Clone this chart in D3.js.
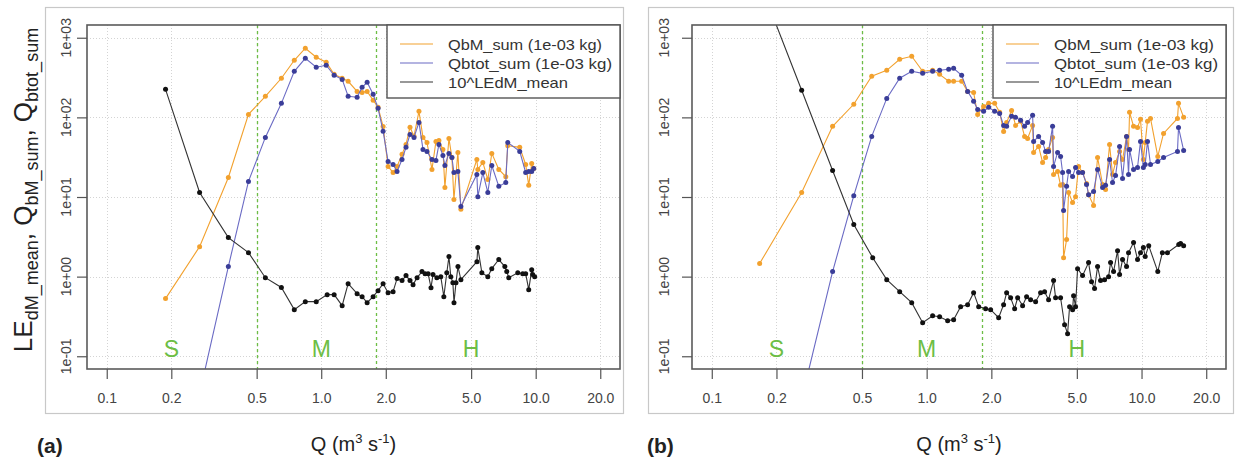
<!DOCTYPE html>
<html>
<head>
<meta charset="utf-8">
<script src="https://cdn.jsdelivr.net/npm/d3@7"></script>
<style>
  body { margin: 0; background: #fff; }
  svg { display: block; font-family: "Liberation Sans", Arial, Helvetica, sans-serif; }
</style>
</head>
<body>
<svg id="chart" width="1236" height="460"></svg>
<script>
// ---- axis ticks and annotations ----
const xTicks = [0.1, 0.2, 0.5, 1.0, 2.0, 5.0, 10.0, 20.0];
const xTickLabels = ["0.1", "0.2", "0.5", "1.0", "2.0", "5.0", "10.0", "20.0"];
const yTicks = [0.1, 1, 10, 100, 1000];
const yTickLabels = ["1e-01", "1e+00", "1e+01", "1e+02", "1e+03"];
const xLim = [0.1, 20];
const yLim = [0.1, 1000];
const regimeBounds = [0.5, 1.8];
const regimeLabels = ["S", "M", "H"];
const regimeLabelQ = [0.2, 1.0, 5.0];

// ---- panel (a): discharge Q (m3/s) and values ----
const qA_LE = [0.188,0.271,0.369,0.458,0.549,0.652,0.749,0.843,0.948,1.066,1.149,1.252,1.335,1.47,1.551,1.637,1.746,1.841,1.943,2.05,2.163,2.257,2.381,2.485,2.594,2.68,2.80,2.95,3.05,3.15,3.25,3.32,3.46,3.61,3.73,3.85,3.94,4.02,4.11,4.16,4.25,4.34,4.48,5.32,5.37,5.61,5.98,6.24,6.73,7.18,7.33,7.49,8.25,8.70,8.98,9.28,9.58,9.68,9.89];
const leA = [225,11.4,3.09,2.0,0.97,0.73,0.385,0.485,0.485,0.594,0.594,0.432,0.816,0.611,0.56,0.471,0.56,0.667,0.816,0.629,0.648,0.944,0.891,1.03,0.891,0.793,0.97,1.156,1.09,1.09,0.727,1.06,0.97,1.0,0.56,1.12,1.785,1.0,0.84,0.471,0.84,1.336,0.917,1.54,2.32,1.12,1.0,1.26,1.64,1.336,1.156,0.97,1.12,1.09,1.09,0.686,1.22,1.06,1.0];
const qA_Qb = [0.188,0.271,0.369,0.458,0.549,0.652,0.749,0.843,0.948,1.055,1.149,1.252,1.335,1.47,1.551,1.637,1.746,1.841,1.943,2.05,2.163,2.257,2.381,2.485,2.594,2.708,2.856,2.982,3.112,3.284,3.427,3.538,3.693,3.773,3.939,4.068,4.156,4.337,4.479,5.316,5.373,5.669,5.981,6.243,6.73,7.253,7.41,8.425,8.98,9.28,9.58,9.79];
const qbmA = [0.53,2.38,17.6,109,184,310,521,738,569,492,347,310,284,212,206,212,164,134,77,24.2,20.3,24.2,34.3,45.7,75,58,119,56,48.5,22.2,49.9,51.4,39.6,13.2,54.4,31.4,9.3,36.3,7.0,29.6,22.2,27.2,16.6,35.3,22.2,18,44,42,25.6,14,26.4,22.8];
const qbtotA = [0.0004,0.034,1.34,15.7,56,150,379,552,426,451,337,300,184,179,239,276,195,130,67,28,25.6,20.9,29.6,42,61,56,86.5,39.6,37.4,29.6,28.8,45.7,33.3,24.9,35.3,31.4,20.3,20.9,7.6,19.2,10.1,20.3,11.4,24.9,13.6,15.2,48.5,37.4,20.3,20.9,20.9,22.8];
const legendA = ["QbM_sum (1e-03 kg)", "Qbtot_sum (1e-03 kg)", "10^LEdM_mean"];

// ---- panel (b) ----
const qB_LE = [0.167,0.262,0.365,0.458,0.561,0.652,0.749,0.852,0.958,1.066,1.149,1.252,1.335,1.439,1.551,1.654,1.746,1.881,1.985,2.163,2.281,2.356,2.459,2.567,2.651,2.796,2.918,3.046,3.214,3.39,3.538,3.693,3.896,3.981,4.2,4.384,4.527,4.625,4.776,4.828,4.932,5.039,5.316,5.669,5.853,6.044,6.243,6.447,6.73,7.024,7.176,7.41,7.735,7.903,8.16,8.517,8.70,9.18,9.58,9.89,10.2,10.4,10.8,11.9,12.5,13.2,14.9,15.2,15.7];
const leB = [4990,219,21.5,4.51,1.73,0.917,0.648,0.471,0.264,0.323,0.314,0.28,0.288,0.42,0.444,0.629,0.42,0.396,0.385,0.305,0.444,0.629,0.544,0.396,0.544,0.432,0.56,0.514,0.485,0.629,0.648,0.514,0.891,0.544,0.544,0.249,0.192,0.42,0.385,0.577,0.42,1.26,1.03,1.5,0.865,0.707,1.336,0.891,0.917,1.0,1.5,1.156,2.12,1.06,1.64,1.336,2.0,2.68,1.64,2.0,2.32,1.785,2.45,1.156,2.0,2.0,2.53,2.6,2.45];
const qB_Qb = [0.167,0.262,0.365,0.458,0.555,0.652,0.749,0.852,0.958,1.066,1.149,1.266,1.335,1.455,1.551,1.654,1.727,1.841,1.943,2.072,2.186,2.281,2.356,2.485,2.594,2.737,2.856,2.95,3.112,3.146,3.318,3.464,3.577,3.693,3.855,3.896,4.068,4.2,4.291,4.337,4.479,4.576,4.776,4.932,5.093,5.316,5.548,5.669,5.981,6.243,6.588,6.802,7.1,7.33,7.57,7.903,8.16,8.517,8.70,8.795,9.18,9.58,9.89,10.2,10.4,10.66,11.01,11.9,12.66,14.7,14.86,15.7];
const qbmB = [1.46,11.4,77.1,146,328,390,537,585,379,390,347,284,284,284,212,206,109,137,150,150,116,66.7,86.5,122,79.3,89.1,57.7,54.4,79.3,36.3,43.2,27.2,31.4,39.6,56,19.2,20.9,14,14.4,1.73,2.92,11.4,8.53,10.1,24.2,20.3,14.8,10.7,7.82,31.4,14.4,12.4,45.7,19.2,27.2,37.4,29.6,57.7,39.6,116,77.1,74.8,94.4,29.6,48.5,89.1,97,32.3,62.9,97,150,100];
const qbtotB = [0.0001,0.029,1.156,10.4,57.7,173,310,379,357,379,390,402,413,337,212,159,126,119,134,119,112,79.3,77.1,103,100,91.7,77.1,86.5,106,49.9,57.7,48.5,37.4,37.4,77.1,24.2,36.3,32.3,20.3,6.76,13.6,20.9,18.1,23.5,20.3,20.3,14.4,10.7,11.7,22.2,13.2,14,29.6,15.2,18.6,43.2,17.1,57.7,19.2,39.6,22.2,23.5,49.9,23.5,25.6,49.9,25.6,28,31.4,37.4,74.8,38.5];
const legendB = ["QbM_sum (1e-03 kg)", "Qbtot_sum (1e-03 kg)", "10^LEdm_mean"];

// ---- styles ----
const colOrange = "#f2a12e";
const colBlueLine = "#6a6ac4";
const colBluePt = "#3a3d98";
const colGreen = "#6dbe45";

const svg = d3.select("#chart");

const panels = [
  { id: "a", outer: [45, 7, 623, 413], plot: [87, 25, 620, 369], yLabelX: 71,
    legX: 387, legTextLen: [154, 164, 120], legendText: legendA,
    le: [qA_LE, leA], qb: [qA_Qb, qbmA, qbtotA], tag: "(a)", tagX: 37, yTitle: true },
  { id: "b", outer: [648, 7, 1233, 413], plot: [692, 25, 1226, 369], yLabelX: 669,
    legX: 993, legTextLen: [160, 164, 118], legendText: legendB,
    le: [qB_LE, leB], qb: [qB_Qb, qbmB, qbtotB], tag: "(b)", tagX: 647, yTitle: false }
];

// log-axis limits padded by 4% on each side
function paddedLogDomain(lim) {
  const a = Math.log10(lim[0]), b = Math.log10(lim[1]);
  const pad = 0.04 * (b - a);
  return [Math.pow(10, a - pad), Math.pow(10, b + pad)];
}

// snap a coordinate to the pixel centre so thin dashed lines stay sharp
const snap = v => Math.round(v) + 0.5;

panels.forEach(p => {
  const [ox0, oy0, ox1, oy1] = p.outer;
  const [px0, py0, px1, py1] = p.plot;
  const g = svg.append("g");

  // figure frame
  g.append("rect")
    .attr("x", ox0 + 0.5).attr("y", oy0 + 0.5)
    .attr("width", ox1 - ox0).attr("height", oy1 - oy0)
    .attr("fill", "none").attr("stroke", "#c8c8c8").attr("stroke-width", 1.2);

  const x = d3.scaleLog().domain(paddedLogDomain(xLim)).range([px0, px1]);
  const y = d3.scaleLog().domain(paddedLogDomain(yLim)).range([py1, py0]);

  // dotted grid
  g.append("g").selectAll("line").data(xTicks).join("line")
    .attr("x1", d => snap(x(d))).attr("x2", d => snap(x(d))).attr("y1", py0).attr("y2", py1)
    .attr("stroke", "#d4d4d4").attr("stroke-dasharray", "1,2");
  g.append("g").selectAll("line").data(yTicks).join("line")
    .attr("x1", px0).attr("x2", px1).attr("y1", d => snap(y(d))).attr("y2", d => snap(y(d)))
    .attr("stroke", "#d4d4d4").attr("stroke-dasharray", "1,2");

  // regime boundaries
  g.append("g").selectAll("line").data(regimeBounds).join("line")
    .attr("x1", d => snap(x(d))).attr("x2", d => snap(x(d))).attr("y1", py0).attr("y2", py1)
    .attr("stroke", colGreen).attr("stroke-width", 1.3).attr("stroke-dasharray", "3,3");

  // regime labels
  g.append("g").selectAll("text").data(regimeLabels).join("text")
    .attr("x", (d, i) => x(regimeLabelQ[i])).attr("y", 357)
    .attr("text-anchor", "middle").attr("font-size", 23)
    .attr("fill", colGreen).text(d => d);

  // series, clipped to the plotting region
  const clipId = "clip-" + p.id;
  svg.append("clipPath").attr("id", clipId).append("rect")
    .attr("x", px0).attr("y", py0).attr("width", px1 - px0).attr("height", py1 - py0);
  const data = g.append("g").attr("clip-path", `url(#${clipId})`);

  const line = d3.line().x(d => x(d[0])).y(d => y(d[1]));
  const series = [
    { pts: d3.zip(p.qb[0], p.qb[1]), line: colOrange, pt: colOrange },
    { pts: d3.zip(p.qb[0], p.qb[2]), line: colBlueLine, pt: colBluePt },
    { pts: d3.zip(p.le[0], p.le[1]), line: "#333", pt: "#111" }
  ];
  series.forEach(s => {
    data.append("path").datum(s.pts).attr("d", line)
      .attr("fill", "none").attr("stroke", s.line).attr("stroke-width", 1.1);
    data.append("g").selectAll("circle").data(s.pts).join("circle")
      .attr("cx", d => x(d[0])).attr("cy", d => y(d[1])).attr("r", 2.5)
      .attr("fill", s.pt);
  });

  // plot box
  g.append("rect")
    .attr("x", px0).attr("y", py0).attr("width", px1 - px0).attr("height", py1 - py0)
    .attr("fill", "none").attr("stroke", "#5a5a5a").attr("stroke-width", 1.6);

  // x axis
  const xAxis = d3.axisBottom(x).tickValues(xTicks)
    .tickFormat((d, i) => xTickLabels[i]).tickSize(10).tickSizeOuter(0).tickPadding(14);
  const xa = g.append("g").attr("transform", `translate(0,${py1})`).call(xAxis);
  xa.select(".domain").remove();
  xa.selectAll(".tick line").attr("stroke", "#555").attr("stroke-width", 1.2);
  xa.selectAll(".tick text").attr("font-size", 14).attr("fill", "#444")
    .attr("font-family", "Liberation Sans, Arial, sans-serif");

  // y axis
  const yAxis = d3.axisLeft(y).tickValues(yTicks).tickFormat("").tickSize(10).tickSizeOuter(0);
  const ya = g.append("g").attr("transform", `translate(${px0},0)`).call(yAxis);
  ya.select(".domain").remove();
  ya.selectAll(".tick line").attr("stroke", "#555").attr("stroke-width", 1.2);
  g.append("g").selectAll("text").data(yTicks).join("text")
    .attr("transform", d => `translate(${p.yLabelX},${y(d)}) rotate(-90)`)
    .attr("text-anchor", "middle").attr("font-size", 14).attr("fill", "#444")
    .text((d, i) => yTickLabels[i]);

  // legend
  const lg = g.append("g");
  lg.append("rect").attr("x", p.legX).attr("y", py0)
    .attr("width", px1 - p.legX).attr("height", 73)
    .attr("fill", "#fff").attr("stroke", "#555").attr("stroke-width", 1.4);
  const legCols = [colOrange, colBlueLine, "#333"];
  const rowY = [44, 63, 82];
  p.legendText.forEach((t, i) => {
    lg.append("line").attr("x1", p.legX + 13).attr("x2", p.legX + 46)
      .attr("y1", rowY[i]).attr("y2", rowY[i])
      .attr("stroke", legCols[i]).attr("stroke-width", 1.2);
    lg.append("text").attr("x", p.legX + 61).attr("y", rowY[i] + 5.5)
      .attr("font-size", 15).attr("fill", "#333")
      .attr("textLength", p.legTextLen[i]).attr("lengthAdjust", "spacingAndGlyphs")
      .text(t);
  });

  // x title with superscripts
  const xt = g.append("text").attr("x", (px0 + px1) / 2).attr("y", 451)
    .attr("text-anchor", "middle").attr("font-size", 20).attr("fill", "#222");
  xt.append("tspan").text("Q (m");
  xt.append("tspan").attr("dy", -8).attr("font-size", 13).text("3");
  xt.append("tspan").attr("dy", 8).text(" s");
  xt.append("tspan").attr("dy", -8).attr("font-size", 13).text("-1");
  xt.append("tspan").attr("dy", 8).text(")");

  // panel tag
  g.append("text").attr("x", p.tagX).attr("y", 453)
    .attr("font-size", 21).attr("font-weight", "bold").attr("fill", "#222").text(p.tag);

  // y title with subscripts
  if (p.yTitle) {
    const yt = g.append("text").attr("transform", "translate(32,190) rotate(-90)")
      .attr("text-anchor", "middle").attr("font-size", 26).attr("fill", "#222");
    yt.append("tspan").text("LE");
    yt.append("tspan").attr("dy", 6).attr("font-size", 18).text("dM_mean");
    yt.append("tspan").attr("dy", -6).text(", Q");
    yt.append("tspan").attr("dy", 6).attr("font-size", 18).text("bM_sum");
    yt.append("tspan").attr("dy", -6).text(", Q");
    yt.append("tspan").attr("dy", 6).attr("font-size", 18).text("btot_sum");
  }
});
</script>
</body>
</html>
